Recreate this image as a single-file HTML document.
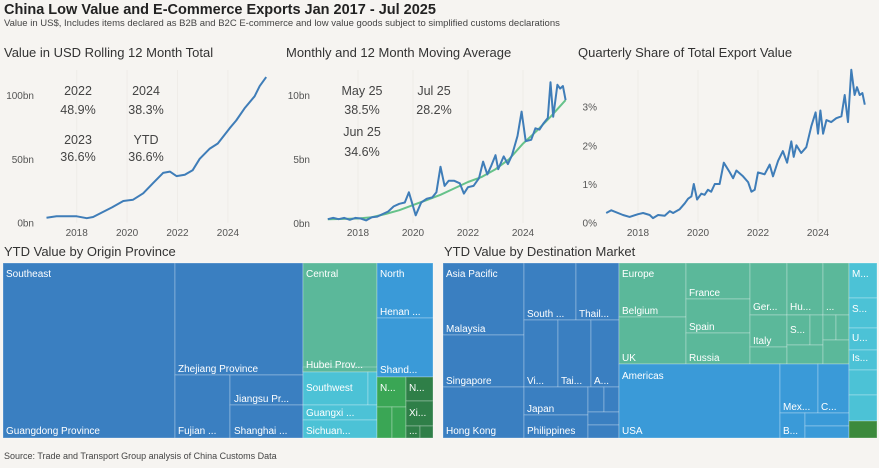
<!DOCTYPE html>
<html><head><meta charset="utf-8"><style>
html,body{margin:0;padding:0;background:#f6f4f1;}
svg{display:block;font-family:"Liberation Sans","Noto Sans CJK SC",sans-serif;}
.ax{font-size:10px;fill:#555;}
.an{font-size:12.5px;fill:#444;text-anchor:middle;}
.pt{font-size:13px;fill:#333;}
.tl{font-size:10px;fill:#fff;}
.cell{stroke:rgba(255,255,255,0.35);stroke-width:0.8;}
</style></head><body>
<svg id="root" width="879" height="468" viewBox="0 0 879 468">
<text x="4" y="14" font-size="14.5" font-weight="bold" fill="#222">China Low Value and E-Commerce Exports Jan 2017 - Jul 2025</text>
<text x="4" y="26" font-size="9.5" fill="#444">Value in US$, Includes items declared as B2B and B2C E-commerce and low value goods subject to simplified customs declarations</text>

<text class="pt" x="4" y="57">Value in USD Rolling 12 Month Total</text>
<text class="pt" x="286" y="57">Monthly and 12 Month Moving Average</text>
<text class="pt" x="578" y="57">Quarterly Share of Total Export Value</text>

<g id="charts"></g>
<g>
<text class="an" x="78" y="95">2022</text><text class="an" x="78" y="114">48.9%</text>
<text class="an" x="146" y="95">2024</text><text class="an" x="146" y="114">38.3%</text>
<text class="an" x="78" y="144">2023</text><text class="an" x="78" y="161">36.6%</text>
<text class="an" x="146" y="144">YTD</text><text class="an" x="146" y="161">36.6%</text>
</g>
<g>
<text class="an" x="362" y="95">May 25</text><text class="an" x="362" y="114">38.5%</text>
<text class="an" x="362" y="136">Jun 25</text><text class="an" x="362" y="156">34.6%</text>
<text class="an" x="434" y="95">Jul 25</text><text class="an" x="434" y="114">28.2%</text>
</g>

<text class="pt" x="4" y="256">YTD Value by Origin Province</text>
<text class="pt" x="444" y="256">YTD Value by Destination Market</text>
<g id="tm"></g>
<text x="4" y="459" font-size="9" fill="#444">Source: Trade and Transport Group analysis of China Customs Data</text>
</svg>
<script>
// Chart 1: rolling 12 month total (bn USD)
const rollYears=[2016.8,2017.2,2018.0,2018.4,2018.65,2019.0,2019.4,2019.85,2020.24,2020.64,2021.03,2021.43,2021.7,2021.96,2022.29,2022.6,2022.88,2023.28,2023.6,2024.07,2024.33,2024.66,2025.06,2025.26,2025.52];
const rollVals=[3.9,5,5,3.5,4.5,8,12,17,18,23,31,39,40,36.5,37.5,41,50,58,62,74,80,89.5,99,107,114];
const rollYTicks=[0,50,100];
const rollYLabels=["0bn","50bn","100bn"];
// Chart 2: monthly and moving average (bn USD)
const monYears=[2016.9,2017.1,2017.3,2017.5,2017.7,2017.9,2018.1,2018.3,2018.5,2018.7,2018.9,2019.1,2019.3,2019.5,2019.7,2019.85,2020.1,2020.3,2020.5,2020.7,2020.85,2021.0,2021.15,2021.3,2021.5,2021.7,2021.85,2022.0,2022.2,2022.4,2022.55,2022.7,2022.85,2023.0,2023.1,2023.3,2023.45,2023.6,2023.8,2023.95,2024.1,2024.3,2024.45,2024.6,2024.75,2024.9,2025.0,2025.1,2025.25,2025.35,2025.45,2025.55];
const monVals=[0.3,0.4,0.3,0.4,0.25,0.4,0.35,0.2,0.45,0.5,0.7,0.9,1.3,1.5,1.6,2.4,0.6,1.6,1.9,2.0,2.4,4.4,2.9,3.3,3.3,3.1,2.3,2.8,2.9,3.5,4.8,3.8,4.5,5.3,4.2,5.2,4.6,5.3,6.8,8.7,6.4,6.5,7.4,7.3,7.8,8.2,11.0,8.3,10.8,10.5,10.7,9.6];
const maYears=[2016.9,2017.5,2018.0,2018.5,2019.0,2019.5,2020.0,2020.5,2021.0,2021.5,2022.0,2022.5,2023.0,2023.5,2024.0,2024.5,2025.0,2025.55];
const maVals=[0.3,0.32,0.35,0.45,0.7,1.0,1.4,1.8,2.2,2.7,3.2,3.6,4.2,5.0,6.2,7.2,8.3,9.6];
const monYTicks=[0,5,10];
const monYLabels=["0bn","5bn","10bn"];
// Chart 3: quarterly share of total export value (%)
const shareYears=[2016.94,2017.11,2017.5,2017.72,2018,2018.17,2018.39,2018.5,2018.67,2018.89,2019.06,2019.17,2019.39,2019.56,2019.67,2019.78,2019.86,2019.97,2020.11,2020.22,2020.33,2020.44,2020.56,2020.72,2020.86,2021.06,2021.17,2021.28,2021.5,2021.67,2021.78,2021.89,2022.0,2022.22,2022.39,2022.5,2022.67,2022.83,2022.97,2023.11,2023.19,2023.28,2023.44,2023.61,2023.78,2023.92,2024.0,2024.08,2024.17,2024.28,2024.44,2024.61,2024.78,2024.89,2025.0,2025.11,2025.22,2025.3,2025.39,2025.48,2025.56];
const shareVals=[0.25,0.32,0.2,0.15,0.22,0.25,0.2,0.12,0.2,0.18,0.3,0.25,0.35,0.5,0.62,0.68,1.0,0.6,0.75,0.72,0.85,0.8,1.0,1.0,1.55,1.3,1.15,1.35,1.2,1.05,0.8,0.85,1.3,1.25,1.5,1.2,1.6,1.85,1.55,2.1,1.7,2.0,1.8,1.95,2.5,2.85,2.3,2.9,2.3,2.65,2.6,2.7,2.75,3.3,2.6,3.95,3.3,3.5,3.3,3.35,3.05];
const shareYTicks=[0,1,2,3];
const shareYLabels=["0%","1%","2%","3%"];
const xTickYears=[2018,2020,2022,2024];
const xTickLabels=["2018","2020","2022","2024"];

const NS="http://www.w3.org/2000/svg";
const G=document.getElementById('charts');
function mk(tag,attrs,parent){const e=document.createElementNS(NS,tag);for(const k in attrs)e.setAttribute(k,attrs[k]);(parent||G).appendChild(e);return e;}

function drawChart(cfg){
  const X=y=>cfg.x0+(y-2018)*cfg.xs, Y=v=>cfg.y0-v*cfg.ys;
  const g=mk('g',{});
  
  
  xTickYears.forEach((yr,i)=>{
    const gl=mk('line',{x1:X(yr),x2:X(yr),y1:70,y2:cfg.y0,stroke:'#efece8','stroke-width':1},g);
    
    
    const t=mk('text',{x:X(yr),y:236,class:'ax','text-anchor':'middle'},g);
    t.textContent=xTickLabels[i];
    
    
  });
  cfg.yt.forEach((v,i)=>{
    const t=mk('text',{x:cfg.yl,y:Y(v)+4,class:'ax','text-anchor':'end'},g);
    t.textContent=cfg.ylab[i];
    
    
  });
  cfg.series.forEach(s=>{
    const d=s.xs.map((yr,i)=>(i?'L':'M')+X(yr).toFixed(1)+','+Y(s.vs[i]).toFixed(1)).join('');
    const p=mk('path',{d:d,fill:'none',stroke:s.color,'stroke-width':s.w,'stroke-linejoin':'round'},g);
    
    
  });
}
drawChart({name:'rolling-total-chart',x0:76.7,xs:25.2,y0:222.7,ys:1.277,yl:34,yt:rollYTicks,ylab:rollYLabels,
  series:[{xs:rollYears,vs:rollVals,color:'#3f7db8',w:2,name:'rolling-total-line'}]});
drawChart({name:'monthly-chart',x0:358,xs:27.5,y0:223,ys:12.8,yl:310,yt:monYTicks,ylab:monYLabels,
  series:[{xs:maYears,vs:maVals,color:'#66c28a',w:2,name:'moving-average-line'},{xs:monYears,vs:monVals,color:'#3f7db8',w:2,name:'monthly-line'}]});
drawChart({name:'share-chart',x0:638,xs:30,y0:222.7,ys:38.7,yl:597,yt:shareYTicks,ylab:shareYLabels,
  series:[{xs:shareYears,vs:shareVals,color:'#3f7db8',w:2,name:'share-line'}]});

// Treemaps (layout geometry)
const TM=document.getElementById('tm');
const B1='#3a7fc1',GR='#5bb89a',B2='#3a9ad8',CY='#4cc2d6',DG='#3aa655',DG2='#2f7f48';
const cells=[
 [3,263,172,175,B1],[175,263,128,112,B1],[175,375,55,63,B1],[230,375,73,30,B1],[230,405,73,33,B1],
 [303,263,74,109,GR],[303,367,74,5,GR],[303,372,65,33,CY],[368,372,9,33,CY],[303,405,74,15,CY],[303,420,74,18,CY],
 [377,263,56,55,B2],[377,318,56,59,B2],
 [377,377,29,30,DG],[377,407,15,31,DG],[392,407,14,31,DG],[406,377,27,24,DG2],[406,401,27,25,DG2],[406,426,14,12,DG2],[420,426,13,12,DG2],
 [443,263,81,72,B1],[443,335,81,52,B1],[443,387,81,51,B1],[524,263,52,57,B1],[576,263,43,57,B1],
 [524,320,34,67,B1],[558,320,33,67,B1],[591,320,28,67,B1],[524,387,64,28,B1],[524,415,64,23,B1],
 [588,387,16,25,B1],[604,387,15,25,B1],[588,412,31,13,B1],[588,425,31,13,B1],
 [619,263,67,54,GR],[619,317,67,47,GR],[686,263,64,36,GR],[686,299,64,34,GR],[686,333,64,31,GR],
 [750,263,37,52,GR],[750,315,37,32,GR],[750,347,37,17,GR],[787,263,36,52,GR],[787,315,23,30,GR],[810,315,13,30,GR],[787,345,36,19,GR],
 [823,263,26,52,GR],[823,315,13,25,GR],[836,315,13,25,GR],[823,340,26,24,GR],
 [619,364,161,74,B2],[780,364,38,49,B2],[818,364,31,49,B2],[780,413,25,25,B2],[805,413,44,13,B2],[805,426,44,12,B2],
 [849,263,28,35,CY],[849,298,28,30,CY],[849,328,28,22,CY],[849,350,28,20,CY],[849,370,28,25,CY],[849,395,28,26,CY],[849,421,28,17,'#3c8a3c']
];
cells.forEach(c=>{
  const r=mk('rect',{x:c[0],y:c[1],width:c[2],height:c[3],fill:c[4],class:'cell'},TM);
  
  
});
const labels=[
 ["Southeast",6,277],["Guangdong Province",6,434],["Zhejiang Province",178,372],["Fujian ...",178,434],["Jiangsu Pr...",234,402],["Shanghai ...",234,434],
 ["Central",306,277],["Hubei Prov...",306,368],["Southwest",306,391],["Guangxi ...",306,416],["Sichuan...",306,434],
 ["North",380,277],["Henan ...",380,315],["Shand...",380,373],["N...",380,391],["N...",409,391],["Xi...",409,416],["...",409,434],
 ["Asia Pacific",446,277],["Malaysia",446,332],["Singapore",446,384],["Hong Kong",446,434],["South ...",527,317],["Thail...",579,317],
 ["Vi...",527,384],["Tai...",561,384],["A...",594,384],["Japan",527,412],["Philippines",527,434],
 ["Europe",622,277],["Belgium",622,314],["UK",622,361],["France",689,296],["Spain",689,330],["Russia",689,361],
 ["Ger...",753,310],["Italy",753,344],["Hu...",790,310],["S...",790,333],["...",826,310],
 ["Americas",622,379],["USA",622,434],["Mex...",783,410],["C...",821,410],["B...",783,434],
 ["M...",852,277],["S...",852,312],["U...",852,341],["Is...",852,361]
];
labels.forEach(l=>{
  const t=mk('text',{x:l[1],y:l[2],class:'tl'},TM);
  t.textContent=l[0];
  
  
});
</script>
</body></html>
